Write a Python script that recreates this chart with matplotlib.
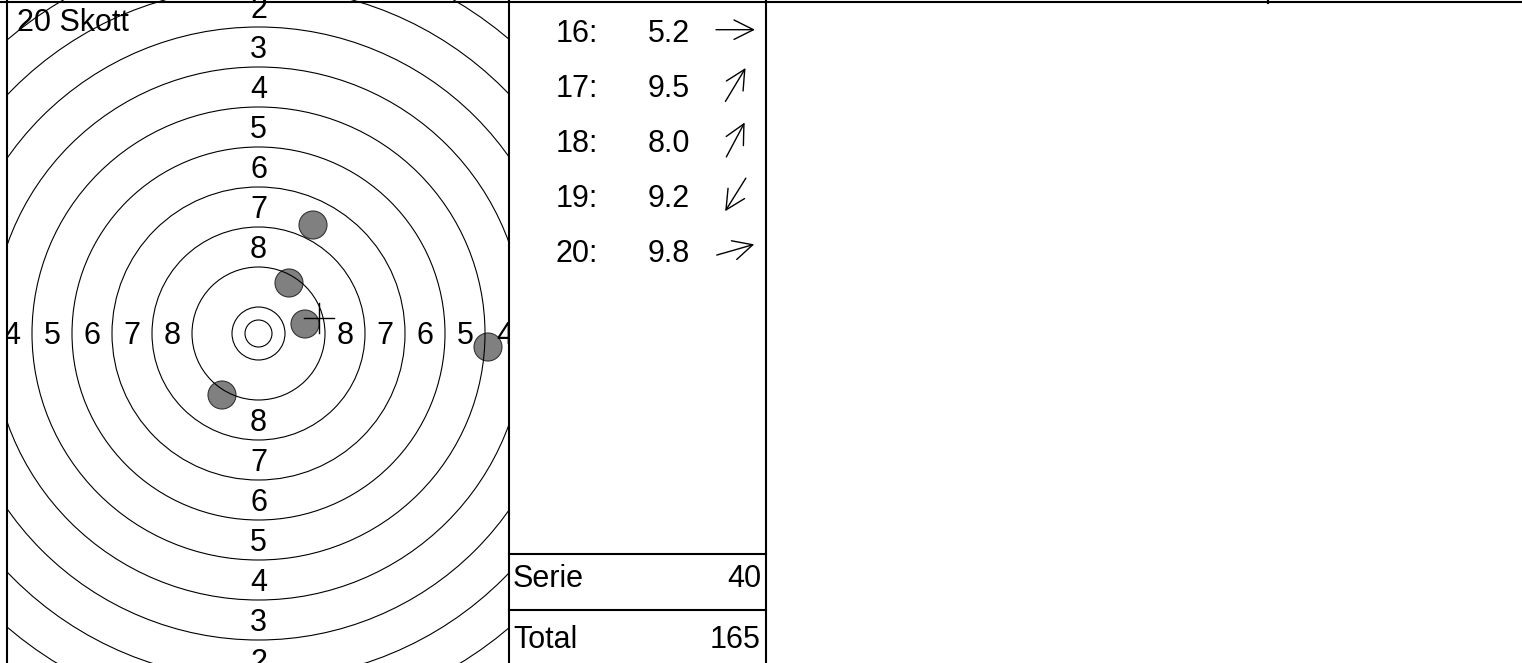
import numpy as np
import matplotlib
matplotlib.use("Agg")
import matplotlib.pyplot as plt
from matplotlib.patches import Circle, FancyArrowPatch

plt.rcParams['font.family'] = ['Liberation Sans', 'DejaVu Sans']

# ring data (target units, centre = 0,0)
ring_values = [10, 9, 8, 7, 6, 5, 4, 3, 2, 1]
ring_radii = [26.5, 66.5, 106.5, 146.5, 186.5, 226.5, 266.5, 306.5, 346.5, 386.5]
inner_ten = 13.5
label_values = [8, 7, 6, 5, 4, 3, 2, 1]
label_dist = [86.5, 126.5, 166.5, 206.5, 246.5, 286.5, 326.5, 366.5]

# shots 16-20
shot_no = [16, 17, 18, 19, 20]
shot_score = ["5.2", "9.5", "8.0", "9.2", "9.8"]
shot_x = [229.5, 54.5, 30.5, -36.5, 46.5]
shot_y = [-13.5, 108.5, 50.5, -61.5, 9.5]
shot_dir = [0, 59, 62, -122, 16]   # arrow angle, degrees
mpi_x, mpi_y = 60, 15.5
shot_count = "20 Skott"
serie = 40
total = 165

W, H = 1522, 663
fig = plt.figure(figsize=(W / 100, H / 100), dpi=100)

# target
cx, cy = 258.5, 333.5
x0, x1 = 7, 508.5
ax = fig.add_axes([x0 / W, 0, (x1 - x0) / W, 1])
ax.set_xlim(x0 - cx, x1 - cx)
ax.set_ylim(cy - H, cy)
ax.axis('off')

for sx, sy in zip(shot_x, shot_y):
    ax.add_patch(Circle((sx, sy), 14, facecolor='#808080', edgecolor='#333333',
                        lw=0.8, zorder=1))
for r in [inner_ten] + ring_radii:
    ax.add_patch(Circle((0, 0), r, fill=False, edgecolor='black', lw=0.8, zorder=2))

# ring numbers, clipped at the panel edges like the original
for v, d in zip(label_values, label_dist):
    for dx, dy in [(0, d), (0, -d), (-d, 0), (d, 0)]:
        ax.text(dx, dy - 11, str(v), fontsize=22, ha='center', va='baseline',
                clip_on=True, zorder=3)

ax.plot([mpi_x - 15, mpi_x + 15], [mpi_y, mpi_y], color='black', lw=1, zorder=4)
ax.plot([mpi_x, mpi_x], [mpi_y - 15, mpi_y + 15], color='black', lw=1, zorder=4)

# overlay in pixel coords
ov = fig.add_axes([0, 0, 1, 1], zorder=5)
ov.set_xlim(0, W)
ov.set_ylim(H, 0)
ov.axis('off')
ov.patch.set_alpha(0)

lw = 1.5
ov.plot([0, W], [1.5, 1.5], color='black', lw=lw)
ov.plot([x0, x0], [0, H], color='black', lw=lw)
ov.plot([x1, x1], [0, H], color='black', lw=lw)
ov.plot([766, 766], [0, H], color='black', lw=lw)
ov.plot([x1, 766], [554, 554], color='black', lw=lw)
ov.plot([x1, 766], [610, 610], color='black', lw=lw)
ov.plot([1268, 1268], [0, 3], color='black', lw=lw)

ov.text(17, 30.7, shot_count, fontsize=22, ha='left', va='baseline')

row_base = 41.7
row_step = 55
L = 39
for i, (n, s, a) in enumerate(zip(shot_no, shot_score, shot_dir)):
    yb = row_base + i * row_step
    ov.text(598, yb, f"{n}:", fontsize=22, ha='right', va='baseline')
    ov.text(690, yb, s, fontsize=22, ha='right', va='baseline')
    ac = yb - 12
    t = np.radians(a)
    p0 = (735.5 - L / 2 * np.cos(t), ac + L / 2 * np.sin(t))
    p1 = (735.5 + L / 2 * np.cos(t), ac - L / 2 * np.sin(t))
    ov.add_patch(FancyArrowPatch(p0, p1, arrowstyle='->,head_length=14,head_width=7',
                                 mutation_scale=1, lw=1, color='black',
                                 shrinkA=0, shrinkB=0))

ov.text(513, 586.7, "Serie", fontsize=22, ha='left', va='baseline')
ov.text(761, 586.7, str(serie), fontsize=22, ha='right', va='baseline')
ov.text(513, 648, "Total", fontsize=22, ha='left', va='baseline')
ov.text(761, 648, str(total), fontsize=22, ha='right', va='baseline')

fig.savefig("out.png", dpi=100)
